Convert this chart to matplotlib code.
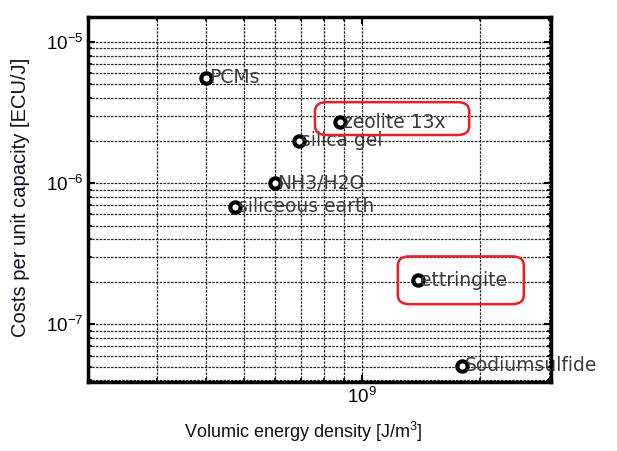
import numpy as np
import matplotlib.pyplot as plt
from matplotlib.patches import FancyBboxPatch

plt.rcParams.update({
    "font.family": ["Liberation Sans", "DejaVu Sans"],
    "mathtext.fontset": "custom",
    "mathtext.rm": "Liberation Sans",
    "mathtext.it": "Liberation Sans:italic",
})

# data
materials = ['PCMs', 'zeolite 13x', 'silica gel', 'NH3/H2O',
             'siliceous earth', 'ettringite', 'Sodiumsulfide']
energy_density = [4.0e8, 8.8e8, 6.9e8, 6.0e8, 4.75e8, 1.39e9, 1.8e9]
cost = [5.6e-6, 2.7e-6, 2.0e-6, 1.0e-6, 6.8e-7, 2.05e-7, 5.1e-8]
highlighted = ['zeolite 13x', 'ettringite']

fig = plt.figure(figsize=(6.17, 4.51), dpi=100)
ax = fig.add_axes([0.1426, 0.153, 0.751, 0.809])

ax.set_xscale('log')
ax.set_yscale('log')
ax.set_xlim(2.0e8, 3.05e9)
ax.set_ylim(3.9e-8, 1.5e-5)

ax.grid(True, which='both', color='0.15', linestyle=(0, (2, 1)), linewidth=0.9)
ax.set_axisbelow(True)
for s in ax.spines.values():
    s.set_linewidth(2.5)
    s.set_color('black')
ax.tick_params(which='both', direction='in', top=True, right=True,
               labelsize=13.5, colors='black')
ax.tick_params(which='major', length=5, width=1.5)
ax.tick_params(which='minor', length=3, width=1.2)

ax.scatter(energy_density, cost, s=55, facecolor='white', edgecolor='black',
           linewidth=3, zorder=3)

# box geometry in axes fraction: (left offset, width, height, centre offset)
boxes = {'zeolite 13x': (-0.054, 0.333, 0.090, 0.010),
         'ettringite': (-0.043, 0.272, 0.131, 0.0)}

for name, x, y in zip(materials, energy_density, cost):
    ax.annotate(name, (x, y), xytext=(2, 0), textcoords='offset points',
                ha='left', va='center', fontsize=13.5, color='#3a3a3a',
                family='DejaVu Sans', zorder=4)
    if name in highlighted:
        dx, w, h, dy = boxes[name]
        bx, by = ax.transAxes.inverted().transform(ax.transData.transform((x, y)))
        box = FancyBboxPatch((bx + dx, by + dy - h / 2), w, h,
                             boxstyle='round,pad=0,rounding_size=0.025',
                             transform=ax.transAxes, fill=False,
                             edgecolor='#e8202a', linewidth=1.8, zorder=5)
        ax.add_patch(box)

ax.set_xlabel(r'Volumic energy density [J/m$^3$]', fontsize=13, color='#111111')
ax.set_ylabel('Costs per unit capacity [ECU/J]', fontsize=14.5, color='#111122')
ax.xaxis.set_label_coords(0.465, -0.105)
ax.yaxis.set_label_coords(-0.125, 0.505)

fig.savefig('out.png', dpi=100)
